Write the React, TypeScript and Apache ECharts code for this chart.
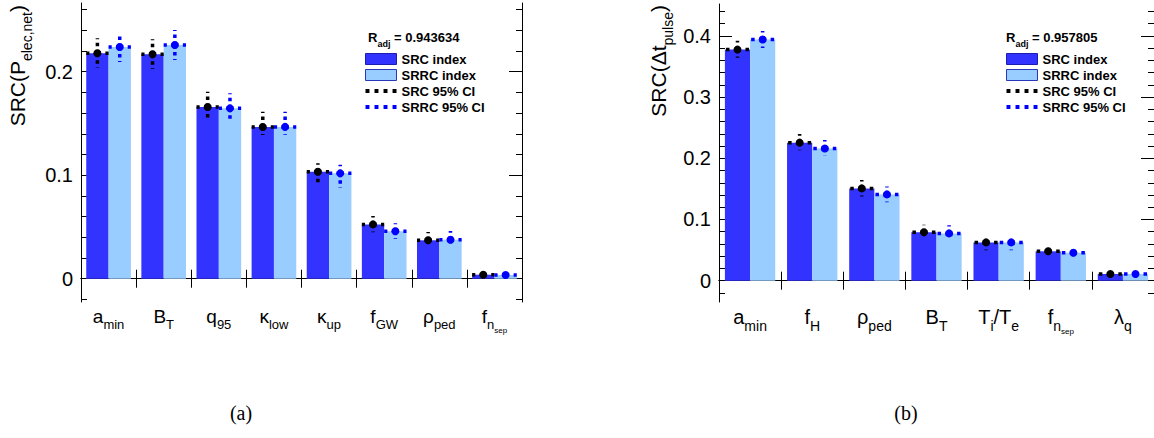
import React, { useEffect, useRef } from 'react';
import * as echarts from 'echarts';

// ---------- Panel (a): SRC(P_elec,net) ----------
const categoriesA = ['a_{min}', 'B_{T}', 'q_{95}', 'κ_{low}', 'κ_{up}', 'f_{GW}', 'ρ_{ped}', 'f_{n_{sep}}'];
const srcA = [0.2178, 0.2168, 0.1659, 0.1466, 0.1034, 0.0525, 0.0371, 0.0039];
const srrcA = [0.2239, 0.2258, 0.1646, 0.1467, 0.1018, 0.0458, 0.0377, 0.0036];
const srcLoA = [0.2039, 0.2026, 0.1533, 0.1388, 0.0899, 0.0448, 0.0303, 0.0027];
const srcHiA = [0.2323, 0.2313, 0.1807, 0.1614, 0.1115, 0.0606, 0.0451, 0.0051];
const srrcLoA = [0.2094, 0.2113, 0.1517, 0.1390, 0.0879, 0.0383, 0.0313, 0.0024];
const srrcHiA = [0.2374, 0.2403, 0.1791, 0.1614, 0.1100, 0.0535, 0.0461, 0.0048];
const rAdjA = '0.943634';
const yRangeA = [-0.0225, 0.2664];
const majorTicksA = [0, 0.1, 0.2];
const minorTicksA = [-0.02, 0, 0.02, 0.04, 0.06, 0.08, 0.1, 0.12, 0.14, 0.16, 0.18, 0.2, 0.22, 0.24, 0.26];

// ---------- Panel (b): SRC(Δt_pulse) ----------
const categoriesB = ['a_{min}', 'f_{H}', 'ρ_{ped}', 'B_{T}', 'T_{i}/T_{e}', 'f_{n_{sep}}', 'λ_{q}'];
const srcB = [0.3775, 0.2255, 0.1508, 0.0790, 0.0626, 0.0480, 0.0110];
const srrcB = [0.3940, 0.2160, 0.1410, 0.0773, 0.0626, 0.0457, 0.0110];
const srcLoB = [0.3640, 0.2130, 0.1377, 0.0730, 0.0497, 0.0445, 0.0092];
const srcHiB = [0.3920, 0.2397, 0.1645, 0.0915, 0.0680, 0.0588, 0.0128];
const srrcLoB = [0.3800, 0.2040, 0.1280, 0.0720, 0.0497, 0.0420, 0.0092];
const srrcHiB = [0.4080, 0.2300, 0.1540, 0.0905, 0.0680, 0.0567, 0.0128];
const rAdjB = '0.957805';
const yRangeB = [-0.0348, 0.452];
const majorTicksB = [0, 0.1, 0.2, 0.3, 0.4];
const minorTicksB = [-0.02, 0, 0.02, 0.04, 0.06, 0.08, 0.1, 0.12, 0.14, 0.16, 0.18, 0.2, 0.22, 0.24, 0.26, 0.28, 0.3, 0.32, 0.34, 0.36, 0.38, 0.4, 0.42, 0.44];

const legendNames = ['SRC index', 'SRRC index', 'SRC 95% CI', 'SRRC 95% CI'];
const captions = ['(a)', '(b)'];

const SRC_COLOR = '#3333ff';
const SRRC_COLOR = '#99ccff';
const SRC_CI_COLOR = '#000000';
const SRRC_CI_COLOR = '#0000ff';
const FONT = 'Liberation Sans';
const GAP = 0.19;
const DOTS = 'path://M0,0h3.5v3.5h-3.5zM8,0h3.5v3.5h-3.5zM16,0h3.5v3.5h-3.5zM24,0h3.5v3.5h-3.5z';

const STY = ['m', 's', 'ss'];
function toRich(label: string): string {
  let out = '';
  const walk = (str: string, depth: number) => {
    let buf = '';
    let i = 0;
    const flush = () => {
      if (buf) {
        out += `{${STY[Math.min(depth, 2)]}|${buf}}`;
        buf = '';
      }
    };
    while (i < str.length) {
      if (str[i] === '_' && str[i + 1] === '{') {
        flush();
        let d = 1;
        let j = i + 2;
        while (j < str.length && d > 0) {
          if (str[j] === '{') d++;
          else if (str[j] === '}') d--;
          j++;
        }
        walk(str.slice(i + 2, j - 1), depth + 1);
        i = j;
      } else {
        buf += str[i];
        i++;
      }
    }
    flush();
  };
  walk(label, 0);
  return out;
}

function labelRich(main: number, sub: number) {
  return {
    m: { fontSize: main, lineHeight: main + 3, verticalAlign: 'top', color: '#000', fontFamily: FONT },
    s: { fontSize: sub, lineHeight: sub + 1, padding: [Math.round(main * 0.58), 0, 0, 0], verticalAlign: 'top', color: '#000', fontFamily: FONT },
    ss: { fontSize: 8, lineHeight: 9, padding: [Math.round(main * 1.02), 0, 0, 0], verticalAlign: 'top', color: '#000', fontFamily: FONT },
  };
}

function xAxes(gridIndex: number, cats: string[], main: number, sub: number) {
  const common = {
    type: 'category',
    gridIndex,
    data: cats,
    boundaryGap: true,
    axisLine: { show: true, lineStyle: { color: '#000', width: 1 } },
    axisTick: { show: true, inside: true, length: 9, interval: 0, lineStyle: { color: '#000' } },
    splitLine: { show: false },
  };
  return [
    {
      ...common,
      position: 'bottom',
      axisLabel: {
        show: true,
        interval: 0,
        margin: 5,
        formatter: (v: string) => toRich(v),
        rich: labelRich(main, sub),
      },
    },
    { ...common, position: 'top', axisLabel: { show: false } },
  ];
}

function yAxes(gridIndex: number, range: number[], major: number[], minor: number[]) {
  const base = {
    type: 'value',
    gridIndex,
    min: range[0],
    max: range[1],
    splitLine: { show: false },
  };
  const line = { show: true, lineStyle: { color: '#000', width: 1 } };
  return [
    {
      ...base,
      position: 'left',
      axisLine: line,
      axisTick: { show: true, inside: true, length: 13, customValues: major, lineStyle: { color: '#000' } },
      axisLabel: { show: true, customValues: major, margin: 8, fontSize: 20, color: '#000', fontFamily: FONT },
    },
    {
      ...base,
      position: 'left',
      axisLine: { show: false },
      axisTick: { show: true, inside: true, length: 6, customValues: minor, lineStyle: { color: '#000' } },
      axisLabel: { show: false },
    },
    {
      ...base,
      position: 'right',
      axisLine: line,
      axisTick: { show: true, inside: true, length: 13, customValues: major, lineStyle: { color: '#000' } },
      axisLabel: { show: false },
    },
    {
      ...base,
      position: 'right',
      axisLine: { show: false },
      axisTick: { show: true, inside: true, length: 6, customValues: minor, lineStyle: { color: '#000' } },
      axisLabel: { show: false },
    },
  ];
}

function barSeries(name: string, color: string, xi: number, yi: number, data: number[]) {
  return {
    type: 'bar',
    name,
    xAxisIndex: xi,
    yAxisIndex: yi,
    data,
    barGap: '0%',
    barCategoryGap: `${GAP * 100}%`,
    itemStyle: { color },
    z: 2,
  };
}

function ciSeries(name: string, color: string, side: number, xi: number, yi: number, vals: number[], lo: number[], hi: number[]) {
  return {
    type: 'custom',
    name,
    xAxisIndex: xi,
    yAxisIndex: yi,
    z: 5,
    itemStyle: { color },
    encode: { x: 0, y: 1 },
    data: vals.map((v, i) => [i, v, lo[i], hi[i]]),
    renderItem: (_params: any, api: any) => {
      const idx = api.value(0);
      const v = api.value(1);
      const c = api.coord([idx, v]);
      const band = api.size([1, 0])[0];
      const bw = (band * (1 - GAP)) / 2;
      const cx = c[0] + (side * bw) / 2;
      const cy = c[1];
      const yLo = api.coord([idx, api.value(2)])[1];
      const yHi = api.coord([idx, api.value(3)])[1];
      const dot = { stroke: color, lineWidth: 3.5, lineDash: [3.5, 4.5], fill: null };
      const vdot = { stroke: color, lineWidth: 3.5, lineDash: [3.5, 3.5], fill: null };
      return {
        type: 'group',
        children: [
          { type: 'line', shape: { x1: cx, y1: cy, x2: cx - bw / 2, y2: cy }, style: dot },
          { type: 'line', shape: { x1: cx, y1: cy, x2: cx + bw / 2, y2: cy }, style: dot },
          { type: 'line', shape: { x1: cx, y1: cy, x2: cx, y2: yHi }, style: vdot },
          { type: 'line', shape: { x1: cx, y1: cy, x2: cx, y2: yLo }, style: vdot },
          { type: 'circle', shape: { cx, cy, r: 4 }, style: { fill: color } },
        ],
      };
    },
  };
}

function legendData() {
  return [
    { name: legendNames[0], icon: 'rect', itemStyle: { color: SRC_COLOR, borderColor: '#1c1cb0', borderWidth: 1 } },
    { name: legendNames[1], icon: 'rect', itemStyle: { color: SRRC_COLOR, borderColor: '#2838b8', borderWidth: 1 } },
    { name: legendNames[2], icon: DOTS, itemStyle: { color: SRC_CI_COLOR } },
    { name: legendNames[3], icon: DOTS, itemStyle: { color: SRRC_CI_COLOR } },
  ];
}

function legend(left: number) {
  return {
    show: true,
    orient: 'vertical',
    left,
    top: 51,
    padding: 0,
    itemWidth: 31,
    itemHeight: 11,
    itemGap: 0,
    selectedMode: false,
    data: legendData(),
    textStyle: { fontSize: 13, fontWeight: 'bold', color: '#000', fontFamily: FONT, lineHeight: 16 },
  };
}

function rAdjText(x: number, value: string) {
  return {
    type: 'text',
    x,
    y: 31,
    style: {
      text: `{m|R}{s|adj}{m| = ${value}}`,
      align: 'left',
      verticalAlign: 'top',
      rich: {
        m: { fontSize: 13, fontWeight: 'bold', lineHeight: 16, verticalAlign: 'top', fill: '#000', fontFamily: FONT },
        s: { fontSize: 9, fontWeight: 'bold', lineHeight: 10, padding: [8, 0, 0, 0], verticalAlign: 'top', fill: '#000', fontFamily: FONT },
      },
    },
  };
}

function yTitle(x: number, rich: string) {
  return {
    type: 'text',
    x,
    y: 5,
    rotation: Math.PI / 2,
    style: {
      text: rich,
      align: 'right',
      verticalAlign: 'top',
      rich: {
        m: { fontSize: 21, lineHeight: 24, verticalAlign: 'top', fill: '#000', fontFamily: FONT },
        s: { fontSize: 14, lineHeight: 15, padding: [13, 0, 0, 0], verticalAlign: 'top', fill: '#000', fontFamily: FONT },
      },
    },
  };
}

function caption(x: number, text: string) {
  return {
    type: 'text',
    x,
    y: 413,
    style: {
      text,
      align: 'center',
      verticalAlign: 'middle',
      fontSize: 20,
      fontFamily: 'Liberation Serif',
      fill: '#000',
    },
  };
}

export default function App() {
  const ref = useRef<HTMLDivElement>(null);

  useEffect(() => {
    if (!ref.current) return;
    const chart = echarts.init(ref.current, undefined, { renderer: 'svg' });
    const option: any = {
      animation: false,
      backgroundColor: '#ffffff',
      textStyle: { fontFamily: FONT },
      grid: [
        { left: 81, top: 3, width: 441, height: 299, containLabel: false },
        { left: 719, top: 4, width: 441, height: 298, containLabel: false },
      ],
      xAxis: [...xAxes(0, categoriesA, 19, 13), ...xAxes(1, categoriesB, 20, 14)],
      yAxis: [...yAxes(0, yRangeA, majorTicksA, minorTicksA), ...yAxes(1, yRangeB, majorTicksB, minorTicksB)],
      legend: [legend(365), legend(1006)],
      series: [
        barSeries(legendNames[0], SRC_COLOR, 0, 0, srcA),
        barSeries(legendNames[1], SRRC_COLOR, 0, 0, srrcA),
        ciSeries(legendNames[2], SRC_CI_COLOR, -1, 0, 0, srcA, srcLoA, srcHiA),
        ciSeries(legendNames[3], SRRC_CI_COLOR, 1, 0, 0, srrcA, srrcLoA, srrcHiA),
        barSeries(legendNames[0], SRC_COLOR, 2, 4, srcB),
        barSeries(legendNames[1], SRRC_COLOR, 2, 4, srrcB),
        ciSeries(legendNames[2], SRC_CI_COLOR, -1, 2, 4, srcB, srcLoB, srcHiB),
        ciSeries(legendNames[3], SRRC_CI_COLOR, 1, 2, 4, srrcB, srrcLoB, srrcHiB),
      ],
      graphic: [
        rAdjText(368, rAdjA),
        rAdjText(1006, rAdjB),
        yTitle(7, '{m|SRC(P}{s|elec,net}{m|)}'),
        yTitle(648, '{m|SRC(Δt}{s|pulse}{m|)}'),
        caption(241, captions[0]),
        caption(906, captions[1]),
      ],
    };
    chart.setOption(option);
    return () => chart.dispose();
  }, []);

  return (
    <div style={{ position: 'fixed', left: 0, top: 0, width: 1154, height: 438, overflow: 'hidden', background: '#fff' }}>
      <div ref={ref} style={{ width: 1154, height: 438 }} />
    </div>
  );
}
